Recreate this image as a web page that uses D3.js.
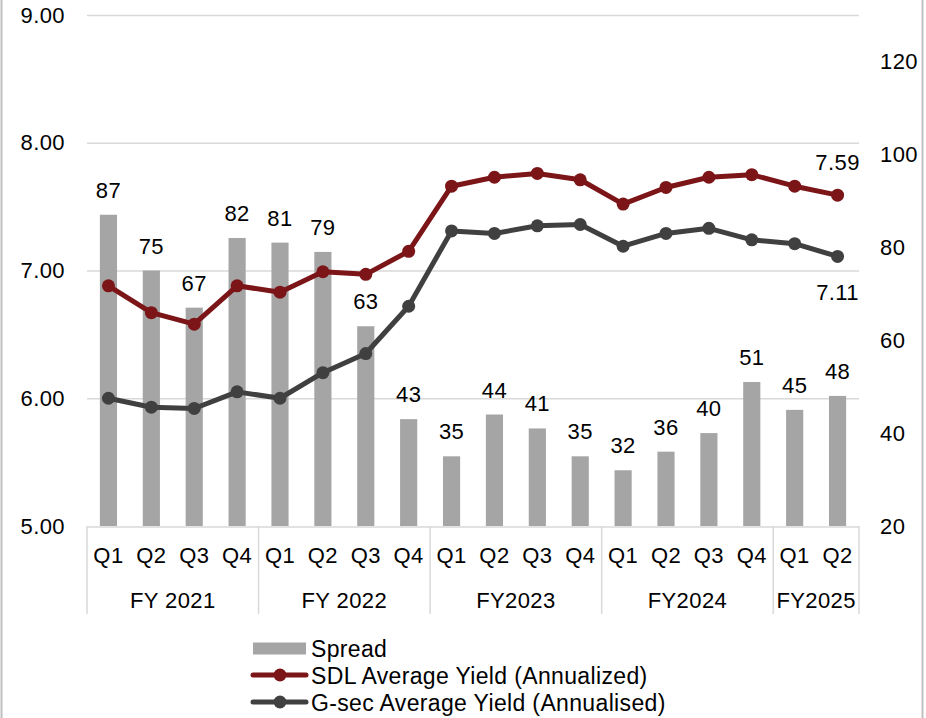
<!DOCTYPE html>
<html>
<head>
<meta charset="utf-8">
<script src="https://cdn.jsdelivr.net/npm/d3@7"></script>
<style>
  html, body { margin: 0; padding: 0; background: #fff; }
  svg { display: block; }
  text { font-family: "Liberation Sans", Arial, sans-serif; fill: #000; }
</style>
</head>
<body>
<svg id="chart" width="926" height="718"></svg>
<script>
const quarters = ["Q1","Q2","Q3","Q4","Q1","Q2","Q3","Q4","Q1","Q2","Q3","Q4","Q1","Q2","Q3","Q4","Q1","Q2"];
const fyGroups = ["FY 2021","FY 2022","FY2023","FY2024","FY2025"];
const fyCounts = [4,4,4,4,2];
const spread = [87,75,67,82,81,79,63,43,35,44,41,35,32,36,40,51,45,48];
const sdlYield = [6.88,6.67,6.58,6.88,6.83,6.99,6.97,7.15,7.66,7.73,7.76,7.71,7.52,7.65,7.73,7.75,7.66,7.59];
const gsecYield = [6.00,5.93,5.92,6.05,6.00,6.20,6.35,6.72,7.31,7.29,7.35,7.36,7.19,7.29,7.33,7.24,7.21,7.11];
const leftTicks = [5,6,7,8,9];
const rightTicks = [20,40,60,80,100,120];
const seriesNames = ["Spread","SDL Average Yield (Annualized)","G-sec Average Yield (Annualised)"];

const svg = d3.select("#chart");
const plot = {left: 87, right: 859, top: 15, bottom: 526};
const FS = 22, LS = "0.4px";
const barColor = "#A5A5A5", sdlColor = "#7B1518", gsecColor = "#404040", gridColor = "#D9D9D9";

// chart border
svg.append("rect").attr("x", 1.5).attr("y", -10).attr("width", 921).attr("height", 740)
  .attr("fill", "none").attr("stroke", "#BFBFBF").attr("stroke-width", 2);

const idx = d3.range(quarters.length);
const x = d3.scaleBand().domain(idx).range([plot.left, plot.right]).paddingInner(0.6).paddingOuter(0.3);
const xc = i => x(i) + x.bandwidth() / 2;
const yL = d3.scaleLinear().domain([5, 9]).range([plot.bottom, plot.top]);
const yR = d3.scaleLinear().domain([20, 130]).range([plot.bottom, plot.top]);

function styleText(sel) {
  sel.style("font-size", FS + "px").style("font-family", "Liberation Sans, Arial, sans-serif")
    .style("letter-spacing", LS).attr("fill", "#000");
}

// gridlines
svg.append("g").selectAll("line").data(leftTicks.filter(t => t > 5)).join("line")
  .attr("x1", plot.left).attr("x2", plot.right)
  .attr("y1", d => yL(d) + 0.5).attr("y2", d => yL(d) + 0.5)
  .attr("stroke", gridColor).attr("stroke-width", 1.5);

// left axis
const gL = svg.append("g").attr("transform", `translate(${plot.left},0)`)
  .call(d3.axisLeft(yL).tickValues(leftTicks).tickFormat(d3.format(".2f")).tickSize(0).tickPadding(22));
gL.select(".domain").remove();
styleText(gL.selectAll("text"));

// right axis
const gR = svg.append("g").attr("transform", `translate(${plot.right},0)`)
  .call(d3.axisRight(yR).tickValues(rightTicks).tickSize(0).tickPadding(21));
gR.select(".domain").remove();
styleText(gR.selectAll("text"));

// bars
svg.append("g").selectAll("rect").data(spread).join("rect")
  .attr("x", (d, i) => x(i)).attr("width", x.bandwidth())
  .attr("y", d => yR(d)).attr("height", d => yR(20) - yR(d))
  .attr("fill", barColor);

// category axis
const gX = svg.append("g").attr("transform", `translate(0,${plot.bottom})`)
  .call(d3.axisBottom(x).tickFormat(i => quarters[i]).tickSize(0).tickPadding(21));
gX.select(".domain").remove();
styleText(gX.selectAll("text"));

svg.append("line").attr("x1", plot.left).attr("x2", plot.right)
  .attr("y1", plot.bottom + 1).attr("y2", plot.bottom + 1)
  .attr("stroke", gridColor).attr("stroke-width", 1.5);

const step = x.step();
let start = 0;
const bounds = [0];
fyCounts.forEach(c => { start += c; bounds.push(start); });
svg.append("g").selectAll("line").data(bounds).join("line")
  .attr("x1", b => plot.left + b * step).attr("x2", b => plot.left + b * step)
  .attr("y1", plot.bottom).attr("y2", plot.bottom + 88)
  .attr("stroke", gridColor).attr("stroke-width", 1.5);
styleText(svg.append("g").selectAll("text").data(fyGroups).join("text")
  .attr("x", (g, i) => plot.left + (bounds[i] + bounds[i + 1]) / 2 * step)
  .attr("y", plot.bottom + 82)
  .attr("text-anchor", "middle")
  .text(g => g));

// lines
function drawSeries(vals, color) {
  const line = d3.line().x((d, i) => xc(i)).y(d => yL(d));
  svg.append("path").datum(vals).attr("d", line)
    .attr("fill", "none").attr("stroke", color).attr("stroke-width", 5).attr("stroke-linejoin", "round");
  svg.append("g").selectAll("circle").data(vals).join("circle")
    .attr("cx", (d, i) => xc(i)).attr("cy", d => yL(d)).attr("r", 6.5).attr("fill", color);
}
drawSeries(sdlYield, sdlColor);
drawSeries(gsecYield, gsecColor);

// bar labels
styleText(svg.append("g").selectAll("text").data(spread).join("text")
  .attr("x", (d, i) => xc(i)).attr("y", d => yR(d) - 17)
  .attr("text-anchor", "middle")
  .text(d => d));

// end labels
const last = quarters.length - 1;
styleText(svg.append("text").attr("x", xc(last)).attr("y", yL(sdlYield[last]) - 25)
  .attr("text-anchor", "middle").text(d3.format(".2f")(sdlYield[last])));
styleText(svg.append("text").attr("x", xc(last)).attr("y", yL(gsecYield[last]) + 44)
  .attr("text-anchor", "middle").text(d3.format(".2f")(gsecYield[last])));

// legend
const lg = svg.append("g");
const lx = 253, ly = 648, lh = 27;
lg.append("rect").attr("x", lx).attr("y", ly - 5.5).attr("width", 53).attr("height", 12).attr("fill", barColor);
[[sdlColor, 1], [gsecColor, 2]].forEach(([c, k]) => {
  lg.append("line").attr("x1", lx).attr("x2", lx + 53).attr("y1", ly + k * lh).attr("y2", ly + k * lh)
    .attr("stroke", c).attr("stroke-width", 5).attr("stroke-linecap", "round");
  lg.append("circle").attr("cx", lx + 27).attr("cy", ly + k * lh).attr("r", 6.5).attr("fill", c);
});
lg.selectAll("text").data(seriesNames).join("text")
  .attr("x", 311).attr("y", (d, i) => ly + i * lh + 8.5)
  .style("font-size", "23px").style("letter-spacing", "0.35px")
  .text(d => d);
</script>
</body>
</html>
